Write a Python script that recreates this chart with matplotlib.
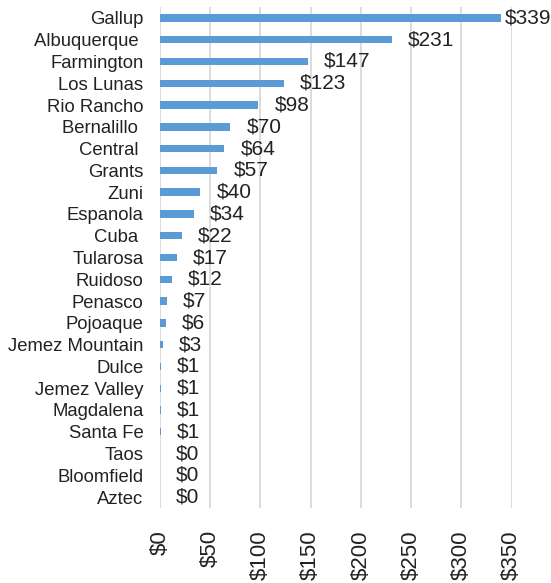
import matplotlib
matplotlib.use("Agg")
import matplotlib.pyplot as plt

plt.rcParams['font.family'] = ['Liberation Sans', 'DejaVu Sans']

categories = ["Gallup", "Albuquerque ", "Farmington", "Los Lunas", "Rio Rancho",
              "Bernalillo ", "Central ", "Grants", "Zuni", "Espanola", "Cuba ",
              "Tularosa", "Ruidoso", "Penasco", "Pojoaque", "Jemez Mountain",
              "Dulce", "Jemez Valley", "Magdalena", "Santa Fe", "Taos",
              "Bloomfield", "Aztec"]
values = [339, 231, 147, 123, 98, 70, 64, 57, 40, 34, 22, 17, 12, 7, 6, 3,
          1, 1, 1, 1, 0, 0, 0]
xticks = [0, 50, 100, 150, 200, 250, 300, 350]
xtick_labels = ["$0", "$50", "$100", "$150", "$200", "$250", "$300", "$350"]

fig = plt.figure(figsize=(5.51, 5.83), dpi=100)
ax = fig.add_axes([0.2904, 0.1286, 0.9287 - 0.2904, 0.988 - 0.1286])

n = len(categories)
ypos = list(range(n))
ax.barh(ypos, values, height=0.34, color="#5B9BD5", zorder=3)

ax.set_xlim(0, 350)
ax.set_ylim(n - 0.5, -0.5)
ax.set_yticks(ypos)
ax.set_yticklabels(categories, fontsize=13.3, color="#222222")
ax.set_xticks(xticks)
ax.set_xticklabels(xtick_labels, rotation=90, fontsize=16, color="#222222")
ax.tick_params(axis='y', length=0, pad=12)
ax.tick_params(axis='x', length=0, pad=16)

ax.grid(axis='x', color="#D9D9D9", linewidth=1.3, zorder=0)
for s in ax.spines.values():
    s.set_visible(False)

gap = 16
xmax_label = 343
for y, v in zip(ypos, values):
    ax.text(min(v + gap, xmax_label), y, f"${v}", va='center', ha='left',
            fontsize=15, color="#222222", clip_on=False)

fig.savefig("out.png", dpi=100)
